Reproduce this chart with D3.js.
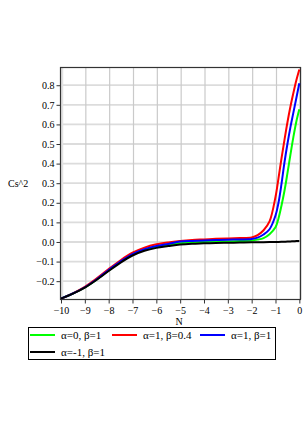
<!DOCTYPE html>
<html>
<head>
<meta charset="utf-8">
<script src="https://cdn.jsdelivr.net/npm/d3@7"></script>
<style>
  body { margin: 0; background: #fff; }
  text { font-family: "Liberation Serif", "DejaVu Serif", serif; fill: #000; }
</style>
</head>
<body>
<div id="chart"></div>
<script>
// values
var N = [-10, -9.5, -9, -8.5, -8, -7.5, -7, -6.5, -6, -5.5, -5, -4.5, -4, -3.5, -3, -2.5, -2,
         -1.75, -1.5, -1.25, -1, -0.875, -0.75, -0.625, -0.5, -0.375, -0.25, -0.125, 0];

var csGreen = [-0.289, -0.263, -0.232, -0.191, -0.145, -0.101, -0.065, -0.04, -0.025, -0.014, -0.006, -0.002, 0.0, 0.002, 0.003, 0.005, 0.007,
               0.012, 0.02, 0.04, 0.075, 0.12, 0.185, 0.26, 0.35, 0.445, 0.535, 0.615, 0.677];
var csRed   = [-0.289, -0.262, -0.229, -0.186, -0.138, -0.093, -0.055, -0.029, -0.012, -0.002, 0.005, 0.01, 0.013, 0.016, 0.018, 0.02, 0.023,
               0.035, 0.06, 0.105, 0.23, 0.325, 0.425, 0.52, 0.61, 0.69, 0.76, 0.825, 0.88];
var csBlue  = [-0.289, -0.263, -0.231, -0.19, -0.143, -0.099, -0.062, -0.037, -0.021, -0.01, 0.002, 0.005, 0.007, 0.01, 0.012, 0.013, 0.015,
               0.022, 0.038, 0.065, 0.135, 0.2, 0.295, 0.405, 0.5, 0.585, 0.66, 0.735, 0.81];
var csBlack = [-0.289, -0.264, -0.233, -0.193, -0.148, -0.105, -0.069, -0.045, -0.03, -0.021, -0.013, -0.009, -0.007, -0.005, -0.004, -0.003, -0.002,
               -0.0015, -0.001, -0.0005, 0.0, 0.0005, 0.001, 0.0015, 0.002, 0.003, 0.0035, 0.0045, 0.005];

var seriesNames = ["\u03b1=0, \u03b2=1", "\u03b1=1, \u03b2=0.4", "\u03b1=1, \u03b2=1", "\u03b1=-1, \u03b2=1"];
var seriesColors = ["#00ff00", "#ff0000", "#0000ff", "#000000"];
var seriesValues = [csGreen, csRed, csBlue, csBlack];

var xTicks = [-10, -9, -8, -7, -6, -5, -4, -3, -2, -1, 0];
var yTicks = [-0.2, -0.1, 0, 0.1, 0.2, 0.3, 0.4, 0.5, 0.6, 0.7, 0.8];

var W = 306, H = 433;

var svg = d3.select("#chart").append("svg")
    .attr("width", W)
    .attr("height", H);

var x = d3.scaleLinear().domain([-10, 0.07]).range([61, 301]);
var y = d3.scaleLinear().domain([-0.291, 0.893]).range([299, 67]);

var fmtMinus = function(s) { return s.replace("-", "\u2212"); };

// grid
svg.append("g").selectAll("line")
    .data(yTicks).enter().append("line")
    .attr("x1", x.range()[0]).attr("x2", x.range()[1])
    .attr("y1", function(d) { return y(d); })
    .attr("y2", function(d) { return y(d); })
    .attr("stroke", "#dcdcdc")
    .attr("stroke-width", 1.8);

svg.append("g").selectAll("line")
    .data(xTicks).enter().append("line")
    .attr("x1", function(d) { return x(d) + 1; })
    .attr("x2", function(d) { return x(d) + 1; })
    .attr("y1", y.range()[0]).attr("y2", y.range()[1])
    .attr("stroke", function(d) { return (d === -10 || d === 0) ? "#e2e2e2" : "#cacaca"; })
    .attr("stroke-width", function(d) { return (d === -10 || d === 0) ? 2.5 : 1.2; });

// frame
svg.append("rect")
    .attr("x", x.range()[0] - 0.5)
    .attr("y", y.range()[1] + 0.5)
    .attr("width", x.range()[1] - x.range()[0])
    .attr("height", y.range()[0] - y.range()[1])
    .attr("fill", "none")
    .attr("stroke", "#333")
    .attr("stroke-width", 1.2);

// axes
var xAxis = d3.axisBottom(x).tickValues(xTicks).tickSize(4).tickSizeOuter(0)
    .tickFormat(function(d) { return fmtMinus(d3.format("d")(d)); });
var yAxis = d3.axisLeft(y).tickValues(yTicks).tickSize(4).tickSizeOuter(0)
    .tickFormat(function(d) { return fmtMinus(d3.format(".1f")(d)); });

var gx = svg.append("g")
    .attr("transform", "translate(0," + (y.range()[0] + 0.5) + ")")
    .call(xAxis);
var gy = svg.append("g")
    .attr("transform", "translate(" + (x.range()[0] - 0.5) + ",0)")
    .call(yAxis);

[gx, gy].forEach(function(g) {
    g.select(".domain").remove();
    g.selectAll(".tick line").attr("stroke", "#333");
    g.selectAll(".tick text")
        .style("font-family", "'Liberation Serif', serif")
        .style("font-size", "10px")
        .attr("fill", "#000");
});
gx.selectAll(".tick text").attr("dy", "0.9em").attr("y", 5);
gy.selectAll(".tick text").attr("x", -6);

// axis labels
svg.append("text")
    .attr("x", 179)
    .attr("y", 325)
    .attr("text-anchor", "middle")
    .style("font-size", "10px")
    .text("N");

svg.append("text")
    .attr("x", 8)
    .attr("y", 187)
    .style("font-size", "10px")
    .text("Cs^2");

// curves
var line = d3.line()
    .x(function(d) { return x(d[0]); })
    .y(function(d) { return y(d[1]); })
    .curve(d3.curveCatmullRom.alpha(0.5));

svg.append("g").selectAll("path")
    .data(seriesValues).enter().append("path")
    .attr("d", function(vals) {
        return line(vals.map(function(v, i) { return [N[i], v]; }));
    })
    .attr("fill", "none")
    .attr("stroke", function(d, i) { return seriesColors[i]; })
    .attr("stroke-width", 2);

// legend
var leg = svg.append("g");
leg.append("rect")
    .attr("x", 28.5).attr("y", 327.5)
    .attr("width", 247).attr("height", 32)
    .attr("fill", "none")
    .attr("stroke", "#000")
    .attr("stroke-width", 1);

var legPos = [[30, 335], [112, 335], [200, 335], [30, 352]];
seriesNames.forEach(function(name, i) {
    var p = legPos[i];
    leg.append("line")
        .attr("x1", p[0]).attr("x2", p[0] + 25)
        .attr("y1", p[1]).attr("y2", p[1])
        .attr("stroke", seriesColors[i])
        .attr("stroke-width", 2);
    leg.append("text")
        .attr("x", p[0] + 31)
        .attr("y", p[1] + 4)
        .style("font-size", "11px")
        .text(name);
});
</script>
</body>
</html>
